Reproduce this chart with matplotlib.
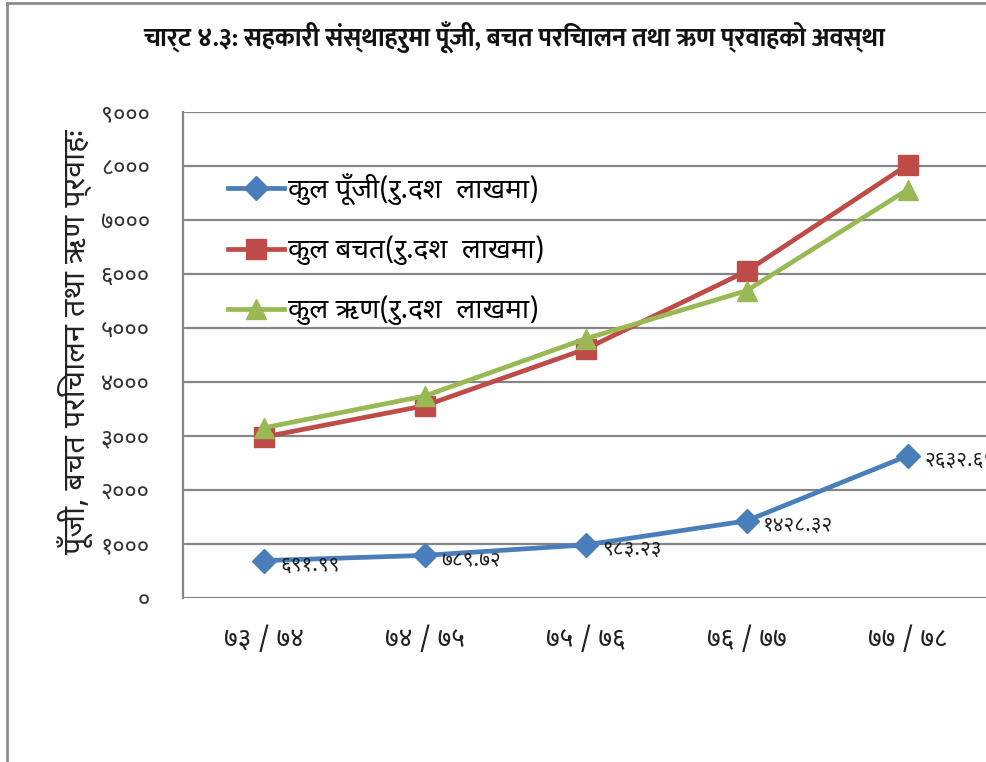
import matplotlib
matplotlib.use("Agg")
import matplotlib.pyplot as plt
from matplotlib.lines import Line2D
import numpy as np

# --- DATOS ---
anios = ["७३ / ७४", "७४ / ७५", "७५ / ७६", "७६ / ७७", "७७ / ७८"]
pujee = [691.99, 789.72, 983.23, 1428.32, 2632.69]
bachat = [2980, 3560, 4610, 6050, 8020]
rin = [3150, 3740, 4800, 5690, 7560]
etiquetas_pujee = ["६९१.९९", "७८९.७२", "९८३.२३", "१४२८.३२", "२६३२.६९"]

nombres = ["कुल पूँजी(रु.दश  लाखमा)", "कुल बचत(रु.दश  लाखमा)", "कुल ऋण(रु.दश  लाखमा)"]
titulo = "चार्ट ४.३: सहकारी संस्थाहरुमा पूँजी, बचत परिचालन तथा ऋण प्रवाहको अवस्था"
ylabel = "पूँजी, बचत परिचालन तथा ऋण प्रवाहः"

plt.rcParams['font.family'] = ['Noto Sans Devanagari', 'Ek Mukta', 'DejaVu Sans']

DEV = str.maketrans("0123456789", "०१२३४५६७८९")

# --- FIGURA ---
fig = plt.figure(figsize=(9.87, 7.62), dpi=100)
W, H = 987, 762
ax = fig.add_axes([183 / W, 1 - 598 / H, 805 / W, (598 - 112) / H])

x = np.arange(len(anios))
ax.plot(x, pujee, color='#4A7EBB', lw=3.4, marker='D', ms=12, zorder=5, label=nombres[0])
ax.plot(x, bachat, color='#BE4B48', lw=3.4, marker='s', ms=14, zorder=4, label=nombres[1])
ax.plot(x, rin, color='#98B954', lw=3.4, marker='^', ms=15, zorder=4, label=nombres[2])

# etiquetas de datos (la última queda cortada en el borde, como en el original)
for xi, yi, t in zip(x, pujee, etiquetas_pujee):
    ax.annotate(t, (xi, yi), xytext=(12, -3), textcoords='offset points',
                ha='left', va='center', fontsize=15, color='#222222', zorder=6,
                annotation_clip=False)

ax.set_xlim(-0.5, 4.5)
ax.set_ylim(0, 9000)
ax.set_yticks(np.arange(0, 9001, 1000))
ax.set_yticklabels([str(v).translate(DEV) for v in range(0, 9001, 1000)],
                   fontsize=17, color='#333333')
ax.set_xticks(x)
ax.set_xticklabels(anios, fontsize=19, color='#222222')
ax.tick_params(axis='x', length=0, pad=20)
ax.tick_params(axis='y', length=0, pad=24)

ax.grid(axis='y', color='#868686', lw=1.6)
ax.set_axisbelow(True)
for s in ['top', 'right', 'bottom']:
    ax.spines[s].set_visible(False)
ax.spines['left'].set_color('#868686')
ax.spines['left'].set_linewidth(1.6)

ax.legend(loc='upper left', bbox_to_anchor=(228 / W, 1 - 173 / H),
          bbox_transform=fig.transFigure, frameon=False, fontsize=20,
          handlelength=2.0, handletextpad=0.15, labelspacing=1.1,
          borderpad=0, borderaxespad=0)

fig.text(514 / W, 1 - 37 / H, titulo, ha='center', va='center',
         fontsize=18.5, fontweight='bold', family=['Ek Mukta', 'DejaVu Sans'],
         color='#111111')
fig.text(75 / W, 1 - 342 / H, ylabel, rotation=90, ha='center', va='center',
         fontsize=22, color='#222222')

# marco
fig.add_artist(Line2D([7 / W, 1], [1 - 3 / H, 1 - 3 / H], color='#8c8c8c', lw=2))
fig.add_artist(Line2D([7 / W, 7 / W], [0, 1 - 3 / H], color='#8c8c8c', lw=2))

fig.savefig("out.png", dpi=100)
